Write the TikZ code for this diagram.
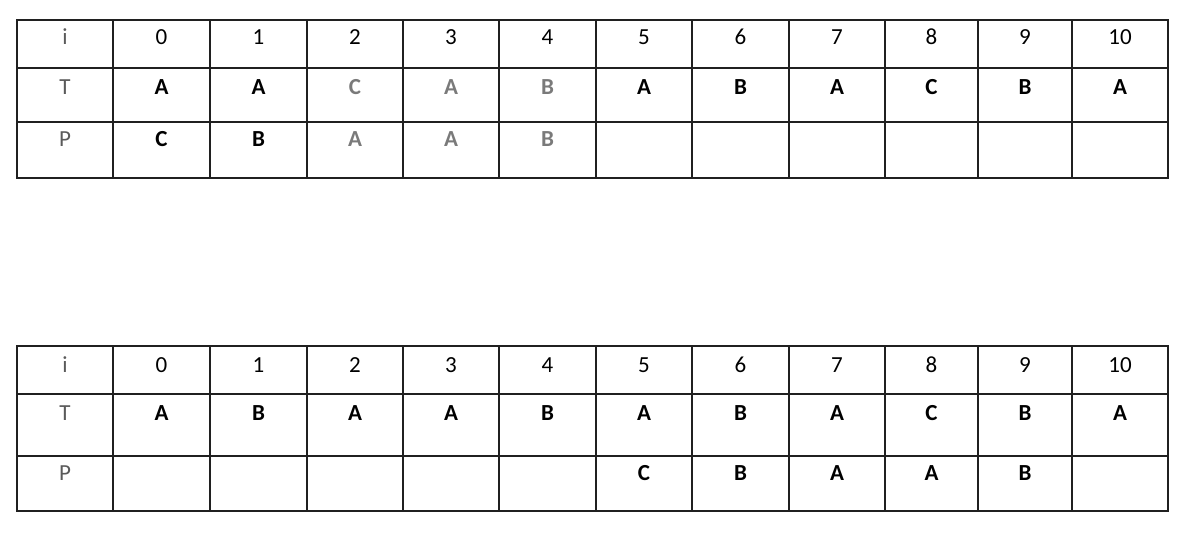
\documentclass[tikz,border=0pt]{standalone}
\usepackage{fontspec}
\setmainfont{Carlito}
\definecolor{lblgray}{HTML}{5A5A5A}
\definecolor{fadegray}{HTML}{7A7A7A}
\definecolor{gridline}{HTML}{202020}
\tikzset{
  gridpen/.style={line width=1.5pt, draw=gridline, line cap=rect},
  txt/.style={anchor=base, inner sep=0pt, font=\fontsize{23}{23}\selectfont},
  hdr/.style={txt, text=black},
  lbl/.style={txt, text=lblgray},
  ltr/.style={txt, font=\fontsize{23}{23}\selectfont\bfseries},
}
\begin{document}
\begin{tikzpicture}[x=1pt,y=-1pt]
\useasboundingbox (0,0) rectangle (1198,556);
% grids
\foreach \tb/\ya/\yb/\yc/\yd in {a/20/68/122/178, b/346/394/456/511}{
  \foreach \yy in {\ya,\yb,\yc,\yd}
    \draw[gridpen] (17,\yy) -- (1168,\yy);
  \foreach \xx in {17,113,210,307,403,499,596,692,789,885,978,1072,1168}
    \draw[gridpen] (\xx,\ya) -- (\xx,\yd);
}
% row labels and index row
\foreach \tb/\ya/\yb/\yc in {a/45/95/147, b/372/420/480}{
  \node[lbl] (\tb-i) at (65,\ya) {i};
  \node[lbl] (\tb-T) at (65,\yb) {T};
  \node[lbl] (\tb-P) at (65,\yc) {P};
  \foreach \k/\x in {0/161.5,1/258.5,2/355,3/451,4/547.5,5/644,6/740.5,7/837,8/931.5,9/1025,10/1120}
    \node[hdr] (\tb-i-\k) at (\x,\ya) {\k};
}
% top table T row
\foreach \k/\x/\cl/\v in {0/161.5/black/A,1/258.5/black/A,2/355/fadegray/C,3/451/fadegray/A,4/547.5/fadegray/B,5/644/black/A,6/740.5/black/B,7/837/black/A,8/931.5/black/C,9/1025/black/B,10/1120/black/A}
  \node[ltr, text=\cl] (a-T-\k) at (\x,95) {\v};
% top table P row
\foreach \k/\x/\cl/\v in {0/161.5/black/C,1/258.5/black/B,2/355/fadegray/A,3/451/fadegray/A,4/547.5/fadegray/B}
  \node[ltr, text=\cl] (a-P-\k) at (\x,147) {\v};
% bottom table T row
\foreach \k/\x/\v in {0/161.5/A,1/258.5/B,2/355/A,3/451/A,4/547.5/B,5/644/A,6/740.5/B,7/837/A,8/931.5/C,9/1025/B,10/1120/A}
  \node[ltr] (b-T-\k) at (\x,420) {\v};
% bottom table P row
\foreach \k/\x/\v in {5/644/C,6/740.5/B,7/837/A,8/931.5/A,9/1025/B}
  \node[ltr] (b-P-\k) at (\x,480) {\v};
\end{tikzpicture}
\end{document}
